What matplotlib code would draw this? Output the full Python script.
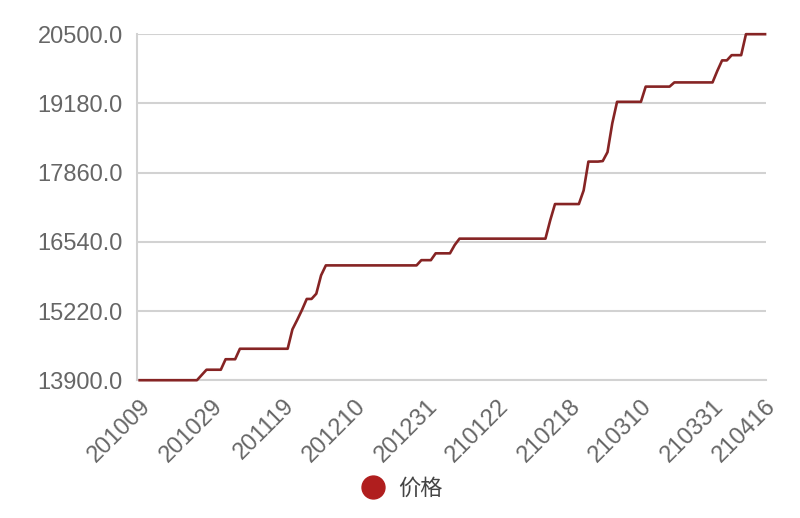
import matplotlib.pyplot as plt
from matplotlib.lines import Line2D
import numpy as np

# ─── Data ────────────────────────────────────────────────────────────────────

# daily price, one value per trading day from 201009 to 210416
price = [
    13900, 13900, 13900, 13900, 13900, 13900, 13900, 13900, 13900, 13900,
    13900, 13900, 13900, 14000, 14100, 14100, 14100, 14100, 14300, 14300,
    14300, 14500, 14500, 14500, 14500, 14500, 14500, 14500, 14500, 14500,
    14500, 14500, 14870, 15050, 15240, 15450, 15450, 15550, 15900, 16090,
    16090, 16090, 16090, 16090, 16090, 16090, 16090, 16090, 16090, 16090,
    16090, 16090, 16090, 16090, 16090, 16090, 16090, 16090, 16090, 16190,
    16190, 16190, 16320, 16320, 16320, 16320, 16480, 16600, 16600, 16600,
    16600, 16600, 16600, 16600, 16600, 16600, 16600, 16600, 16600, 16600,
    16600, 16600, 16600, 16600, 16600, 16600, 16950, 17260, 17260, 17260,
    17260, 17260, 17260, 17520, 18070, 18070, 18070, 18080, 18250, 18800,
    19210, 19210, 19210, 19210, 19210, 19210, 19500, 19500, 19500, 19500,
    19500, 19500, 19580, 19580, 19580, 19580, 19580, 19580, 19580, 19580,
    19580, 19800, 20000, 20000, 20100, 20100, 20100, 20500, 20500, 20500,
    20500, 20500,
]

tick_labels = ["201009", "201029", "201119", "201210", "201231",
               "210122", "210218", "210310", "210331", "210416"]

y_ticks = [13900, 15220, 16540, 17860, 19180, 20500]

series_name = "价格"

# ─── Style ───────────────────────────────────────────────────────────────────

LINE_COLOR = "#862424"
DOT_COLOR = "#b01e1e"
GRID_COLOR = "#d2d2d2"
TEXT_COLOR = "#666666"

plt.rcParams.update({
    "font.family": ["Liberation Sans", "Noto Sans CJK SC", "DejaVu Sans"],
    "font.size": 17,
})

# ─── Plot ────────────────────────────────────────────────────────────────────

fig = plt.figure(figsize=(8, 5.18), dpi=100)
ax = fig.add_axes([0.171, 0.266, 0.7865, 0.668])

x = np.arange(len(price))
ax.plot(x, price, color=LINE_COLOR, linewidth=1.9, solid_joinstyle="round",
        clip_on=False, zorder=3)

ax.set_xlim(-0.6, 131.2)
ax.set_ylim(y_ticks[0], y_ticks[-1])

ax.set_yticks(y_ticks)
ax.set_yticklabels([f"{v:.1f}" for v in y_ticks])
ax.yaxis.grid(True, color=GRID_COLOR, linewidth=1.5)
ax.set_axisbelow(True)

tick_pos = list(range(0, len(price), 15)) + [len(price) - 1]
ax.set_xticks(tick_pos)
ax.set_xticklabels(tick_labels, rotation=45, ha="right", va="top",
                   rotation_mode="anchor")

ax.tick_params(axis="both", length=0, colors=TEXT_COLOR, labelsize=17)
ax.tick_params(axis="y", pad=10)
ax.tick_params(axis="x", pad=10.5)

for side in ["top", "right"]:
    ax.spines[side].set_visible(False)
ax.spines["left"].set_color(GRID_COLOR)
ax.spines["left"].set_linewidth(1.5)
ax.spines["bottom"].set_color(GRID_COLOR)
ax.spines["bottom"].set_linewidth(1.5)

handle = Line2D([], [], linestyle="none", marker="o", markersize=16.5,
                markerfacecolor=DOT_COLOR, markeredgecolor=DOT_COLOR)
fig.legend(handles=[handle], labels=[series_name], loc="center",
           bbox_to_anchor=(0.503, 0.055), frameon=False, fontsize=16,
           handlelength=1.0, handletextpad=0.6, labelcolor="#444444")

fig.savefig("out.png", dpi=100)
